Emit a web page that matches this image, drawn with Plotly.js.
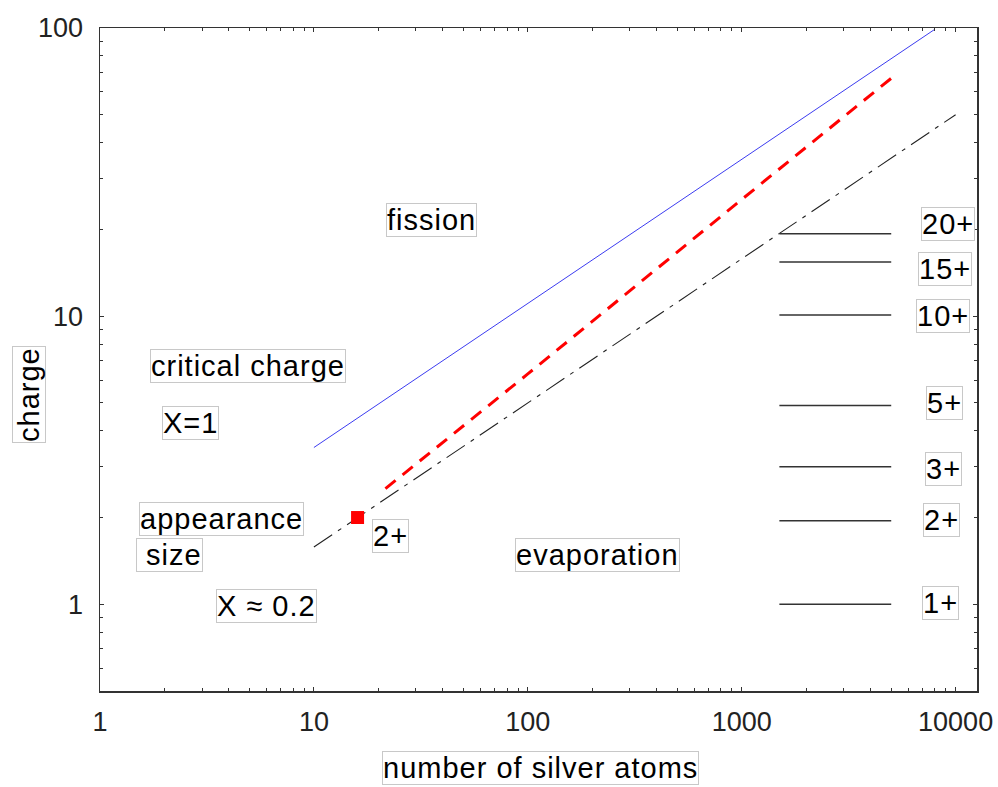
<!DOCTYPE html>
<html>
<head>
<meta charset="utf-8">
<script src="https://cdn.plot.ly/plotly-3.0.1.min.js"></script>
<style>html,body{margin:0;padding:0;background:#fff;}#chart{width:998px;height:787px;}</style>
</head>
<body>
<div id="chart"></div>
<script>
// ---- data ----
const criticalX = [10, 8000];
const criticalY = [3.5, 99];
const appearanceX = [10, 10000];
const appearanceY = [1.58, 50];
const measuredX = [21.6, 100, 1000, 5200];
const measuredY = [2.52, 6.3, 25.4, 68.5];
const pointX = [16];
const pointY = [2];
const levelLabels = ['20+', '15+', '10+', '5+', '3+', '2+', '1+'];
const levelY = [19.3, 15.4, 10.1, 4.9, 3.0, 1.95, 1.0];
const levelX = [1500, 5000];
const xTickVals = [1, 10, 100, 1000, 10000];
const yTickVals = [1, 10, 100];

// ---- build traces ----
const lvlX = [], lvlY = [];
levelY.forEach(v => { lvlX.push(levelX[0], levelX[1], null); lvlY.push(v, v, null); });

const traces = [
  {x: criticalX, y: criticalY, mode: 'lines', line: {color: '#3c3cf0', width: 1}, hoverinfo: 'skip'},
  {x: appearanceX, y: appearanceY, mode: 'lines', line: {color: '#222', width: 1.1, dash: '22px,7px,4px,7px'}, hoverinfo: 'skip'},
  {x: measuredX, y: measuredY, mode: 'lines', line: {color: '#ff0000', width: 3, dash: '13px,9px'}, hoverinfo: 'skip'},
  {x: lvlX, y: lvlY, mode: 'lines', line: {color: '#333', width: 1.5}, connectgaps: false, hoverinfo: 'skip'},
  {x: pointX, y: pointY, mode: 'markers', marker: {symbol: 'square', size: 13, color: '#ff0000'}, hoverinfo: 'skip'}
];

// ---- layout helpers (pixel -> paper) ----
const L = 100, R = 977, T = 28, B = 691;
const sp = t => '<span style="letter-spacing:1px">' + t + '</span>';
function lab(text, px, py, extra) {
  return Object.assign({
    text: sp(text), xref: 'paper', yref: 'paper',
    x: (px - L) / (R - L), y: (B - py) / (B - T),
    xanchor: 'center', yanchor: 'middle', showarrow: false,
    font: {family: 'Liberation Sans, Arial, sans-serif', size: 29, color: '#000'},
    bordercolor: '#c8c8c8', borderwidth: 1, borderpad: 0, bgcolor: 'rgba(255,255,255,0)'
  }, extra || {});
}

const levelPos = [[948, 224.5], [944.5, 269], [942.5, 316], [944, 402.5], [943.5, 468.5], [941.5, 520], [940.5, 603]];

const annotations = [
  lab('fission', 431, 220),
  lab('critical charge', 248, 366),
  lab('X=1', 190.5, 422.5),
  lab('appearance', 221.5, 519),
  lab('\u00a0size', 169, 555),
  lab('X \u2248 0.2', 266, 605.5),
  lab('2+', 390, 535.5),
  lab('evaporation', 597.5, 555),
  lab('charge', 29, 395, {textangle: -90}),
  lab('number of silver atoms', 540.5, 768)
];
levelLabels.forEach((t, i) => annotations.push(lab(t, levelPos[i][0], levelPos[i][1])));

const axisCommon = {
  type: 'log', showgrid: false, zeroline: false,
  showline: true, linecolor: '#333', linewidth: 1.5, mirror: 'allticks',
  ticks: 'inside', ticklen: 4, tickwidth: 1, tickcolor: '#333',
  tickmode: 'array', exponentformat: 'none',
  tickfont: {family: 'Liberation Sans, Arial, sans-serif', size: 27, color: '#222'},
  minor: {dtick: 'D1', ticks: 'inside', ticklen: 3, tickwidth: 1, tickcolor: '#333', showgrid: false}
};

const layout = {
  width: 998, height: 787,
  margin: {l: L, r: 998 - R, t: T, b: 787 - B},
  paper_bgcolor: '#fff', plot_bgcolor: '#fff',
  showlegend: false,
  xaxis: Object.assign({}, axisCommon, {range: [0, 4.1], tickvals: xTickVals, ticktext: xTickVals.map(String), ticklabelstandoff: 6}),
  yaxis: Object.assign({}, axisCommon, {range: [Math.log10(0.5), 2], tickvals: yTickVals, ticktext: yTickVals.map(String), ticklabelstandoff: 10}),
  annotations: annotations
};

Plotly.newPlot('chart', traces, layout, {staticPlot: true, displayModeBar: false});
</script>
</body>
</html>
